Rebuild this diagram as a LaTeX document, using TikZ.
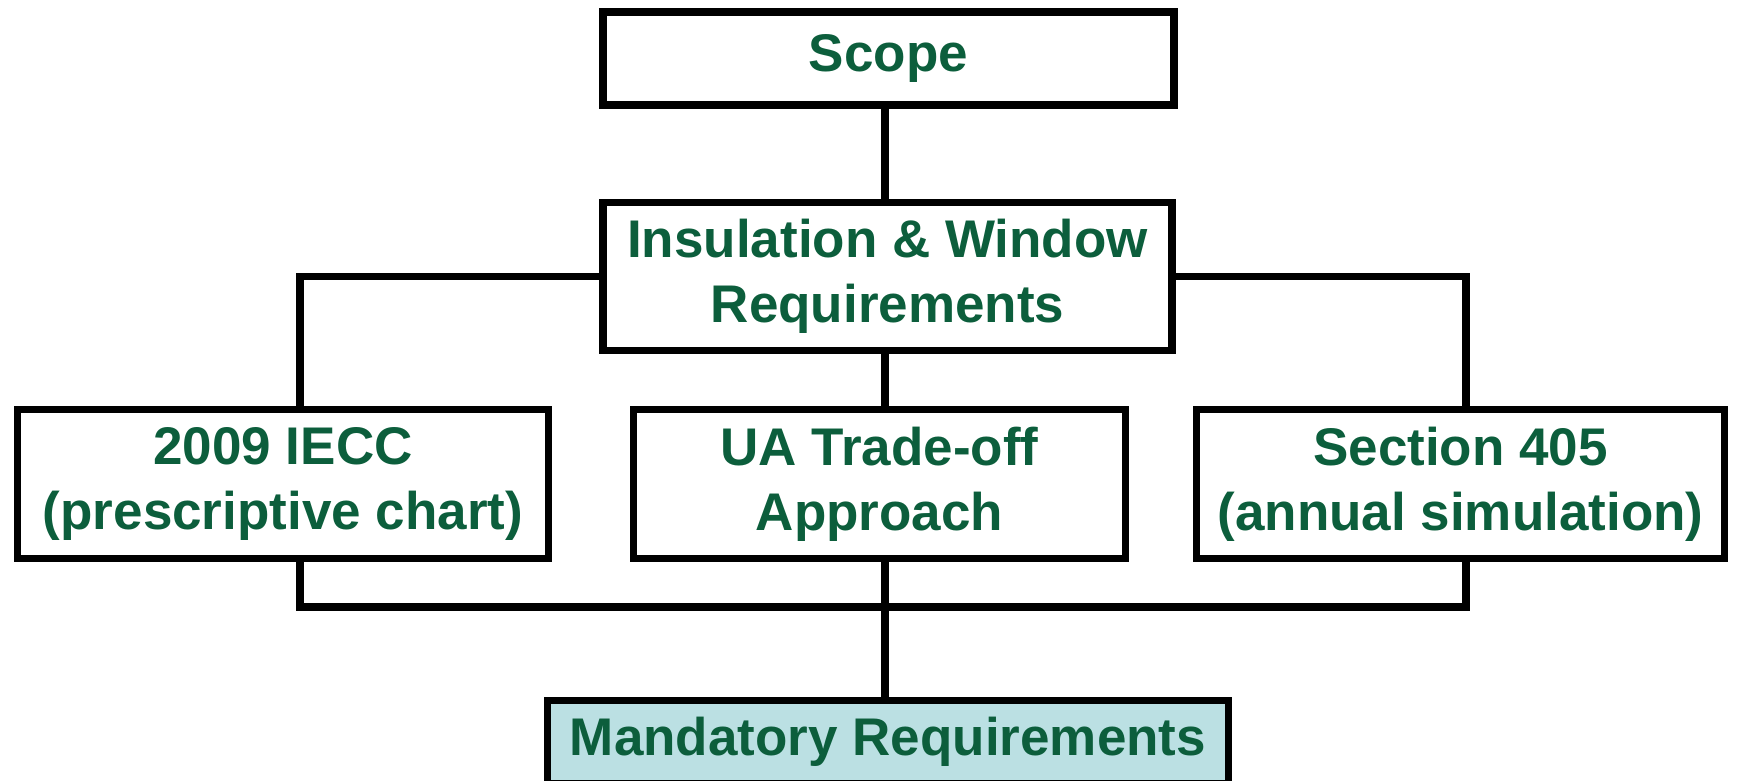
\documentclass[tikz,border=0pt]{standalone}
\usepackage{fontspec}
\setmainfont{Liberation Sans}
\definecolor{txtgreen}{RGB}{12,94,60}
\definecolor{mandfill}{RGB}{187,224,227}

\begin{document}
\begin{tikzpicture}[x=1pt,y=-1pt,
  box/.style={draw=black, line width=7.5pt, fill=white, text=txtgreen,
    font=\fontsize{53}{65}\selectfont\bfseries, align=center,
    inner sep=0pt, line join=miter},
  link/.style={draw=black, line width=7.5pt, line join=miter}]
\useasboundingbox (0,0) rectangle (1741,780);
\clip (0,0) rectangle (1741,780);

% helper coordinates for the connector routes
\coordinate (lx) at (300,0);
\coordinate (cx) at (885,0);
\coordinate (rx) at (1466,0);
\coordinate (bus) at (0,607);

% boxes
\node[box, minimum width=571pt, minimum height=93pt] (scope) at (888.5,58.5) {Scope};
\node[box, minimum width=569pt, minimum height=148pt] (ins) at (887.5,276.5)
  {Insulation \& Window\\Requirements};
\node[box, minimum width=531pt, minimum height=149pt] (left) at (283,484)
  {2009 IECC\\(prescriptive chart)};
\node[box, minimum width=492pt, minimum height=149pt] (mid) at (879.5,484)
  {UA Trade-off\\Approach};
\node[box, minimum width=528pt, minimum height=149pt] (right) at (1460.5,484)
  {Section 405\\(annual simulation)};
\node[box, fill=mandfill, minimum width=681pt, minimum height=83pt] (mand) at (888,742)
  {Mandatory Requirements};

% connectors
\draw[link] (cx |- scope.south) -- (cx |- ins.north);
\draw[link] (ins.west) -| (lx |- left.north);
\draw[link] (ins.east) -| (rx |- right.north);
\draw[link] (cx |- ins.south) -- (cx |- mid.north);
\draw[link] (lx |- left.south) -- (lx |- bus) -- (rx |- bus) -- (rx |- right.south);
\draw[link] (cx |- mid.south) -- (cx |- mand.north);
\end{tikzpicture}
\end{document}
